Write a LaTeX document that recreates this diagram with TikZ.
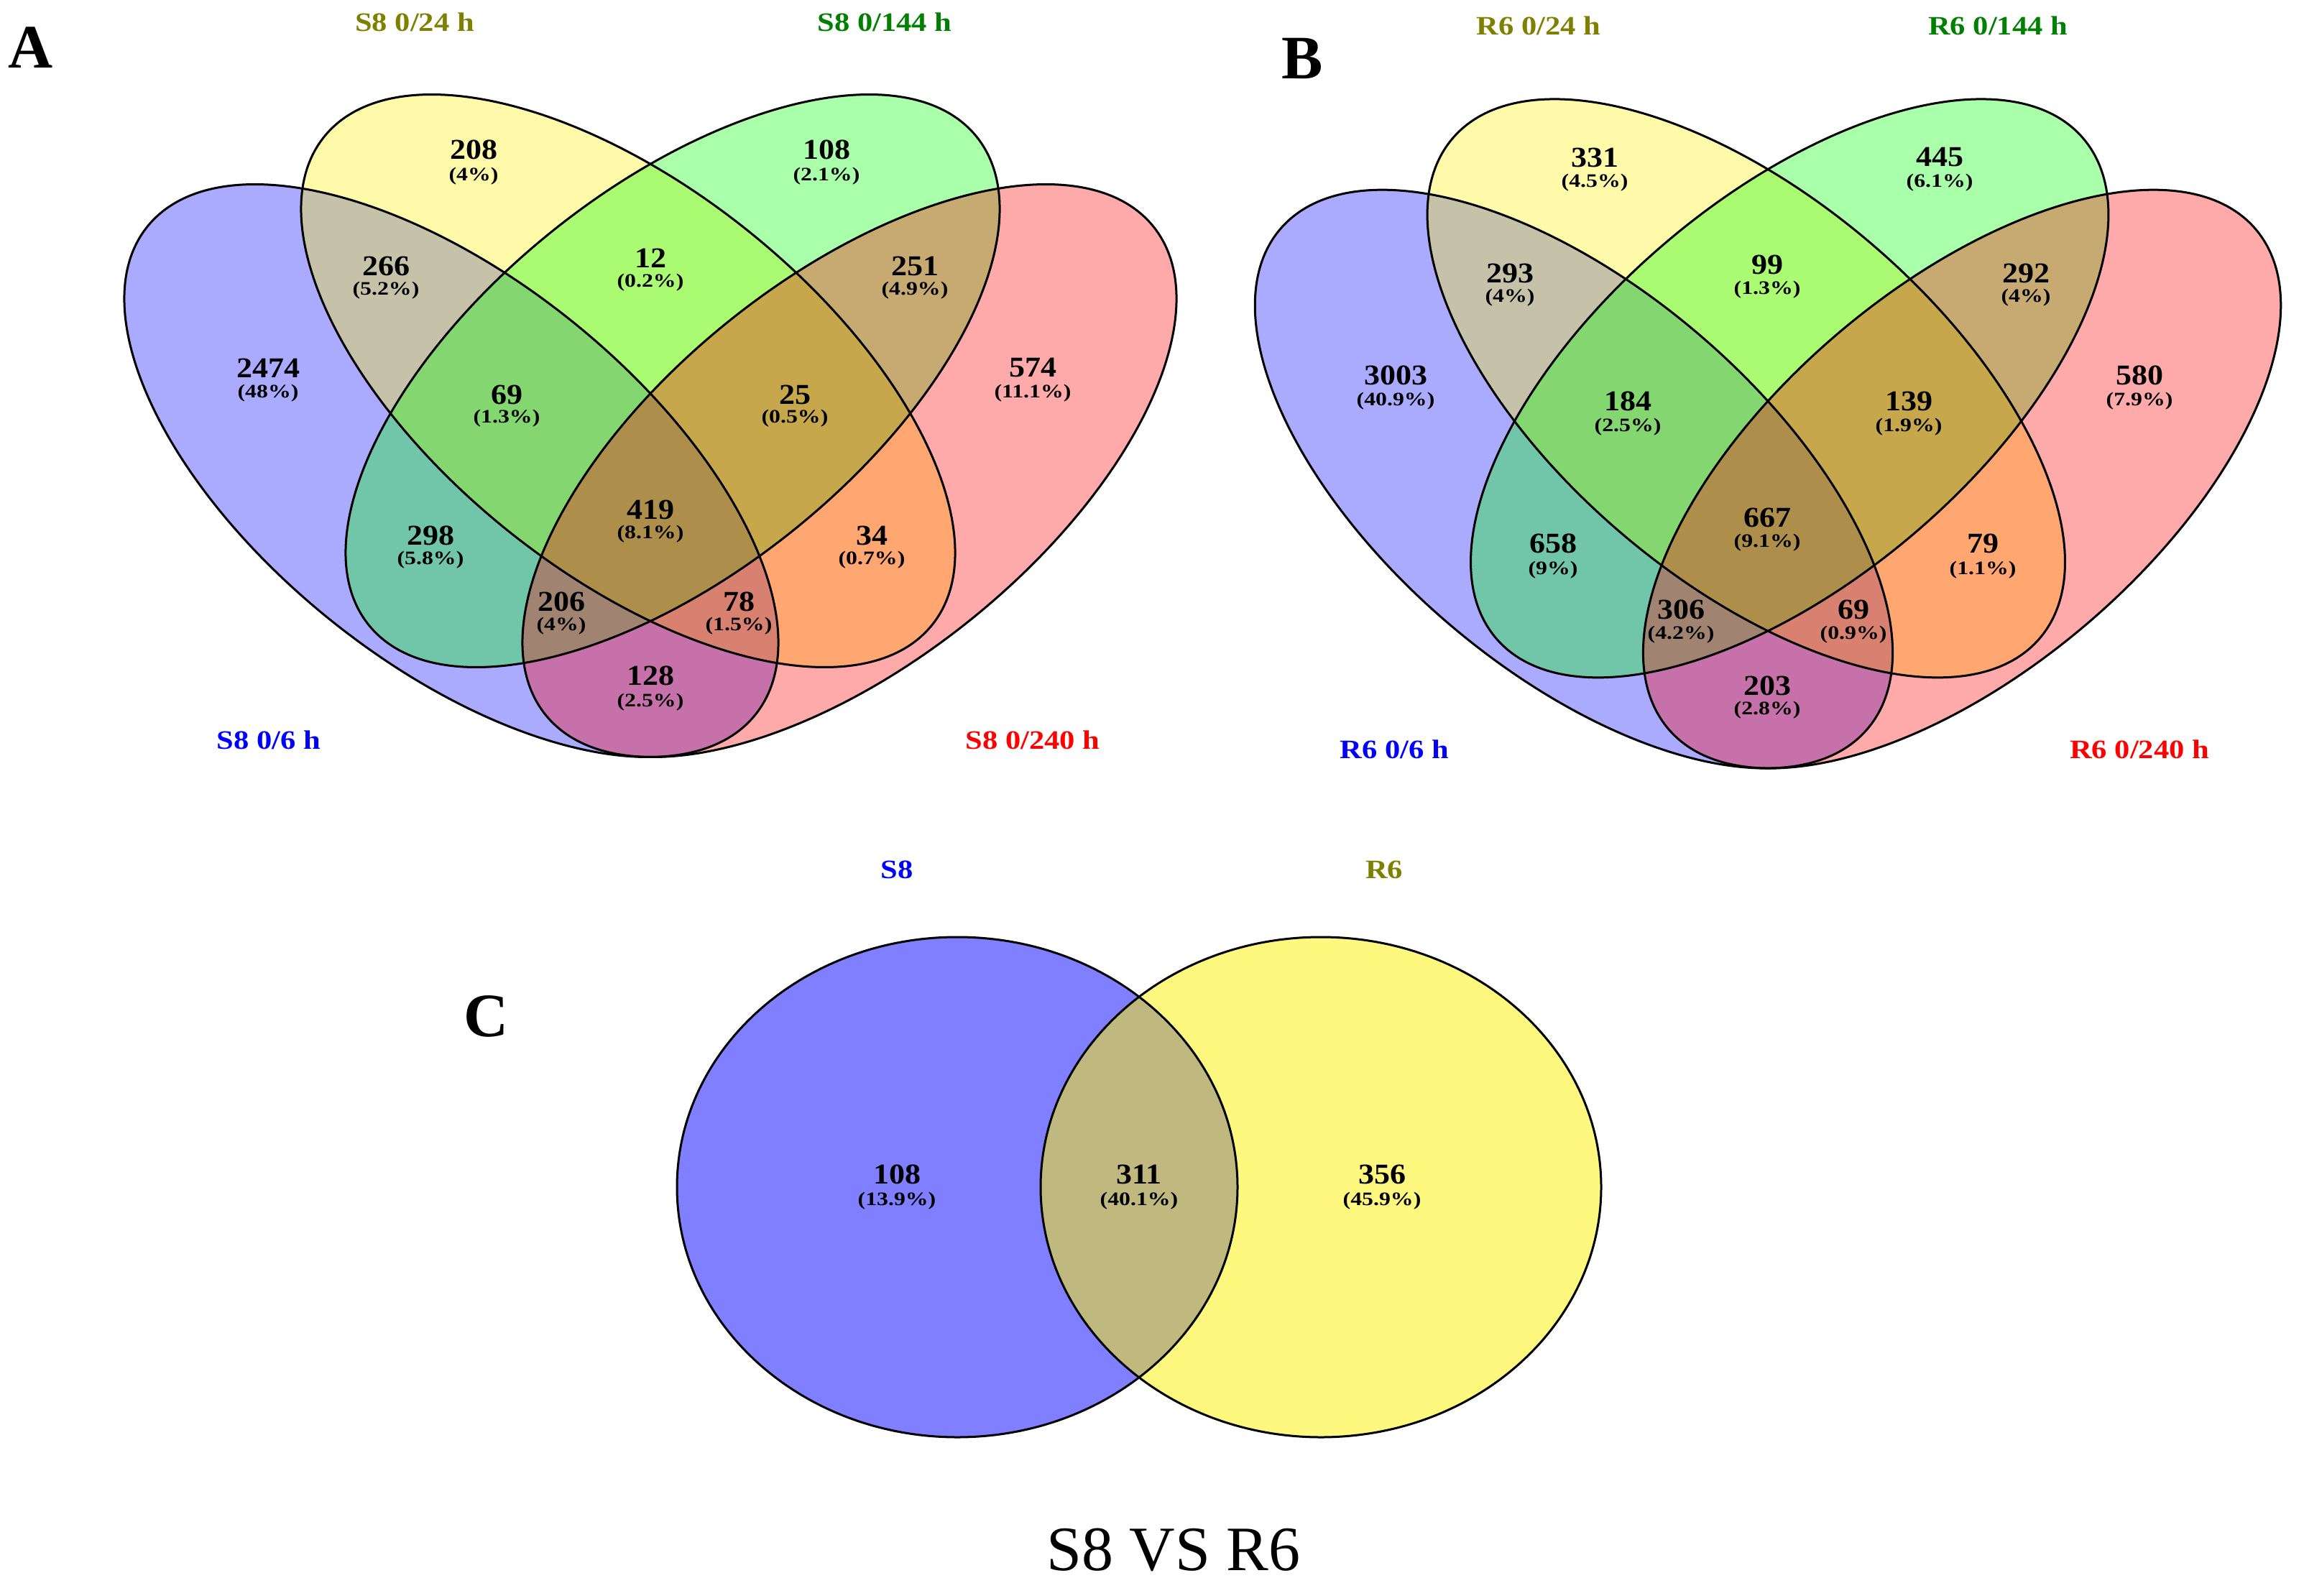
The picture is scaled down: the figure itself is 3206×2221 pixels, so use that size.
\documentclass[tikz,border=0pt]{standalone}
\usepackage{fontspec}
\setmainfont{Liberation Serif}
\newfontfamily\numfont{Liberation Serif}[FakeStretch=1.1]
\newfontfamily\pctfont{Liberation Serif}[FakeStretch=1.2]
\newfontfamily\catfont{Liberation Serif}[FakeStretch=1.15]
\definecolor{olivec}{RGB}{128,128,0}
\definecolor{greenc}{RGB}{0,128,0}
\tikzset{
  venn/.style={draw=black, line width=3pt},
  ell/.style={x radius=542.5pt, y radius=267.3pt},
  eB/.style={shift={(628,-655)}, rotate=-38.75},
  eY/.style={shift={(874,-530)}, rotate=-38.75},
  eG/.style={shift={(936,-530)}, rotate=38.75},
  eR/.style={shift={(1182,-655)}, rotate=38.75},
  fb/.style={fill=blue, fill opacity=0.3333},
  fy/.style={fill=yellow, fill opacity=0.3333},
  fg/.style={fill=green, fill opacity=0.3333},
  fr/.style={fill=red, fill opacity=0.3333},
  num/.style={font={\numfont\bfseries\fontsize{40}{42}\selectfont}, inner sep=0pt},
  pct/.style={font={\pctfont\bfseries\fontsize{26.5}{28}\selectfont}, inner sep=0pt},
  cat/.style={font={\catfont\bfseries\fontsize{37}{40}\selectfont}, inner sep=0pt},
  panel/.style={font={\bfseries\fontsize{86}{90}\selectfont}, inner sep=0pt},
}
\newcommand\quadshapes{%
  \fill[fb, eB] (0,0) ellipse [ell];
  \fill[fy, eY] (0,0) ellipse [ell];
  \fill[fg, eG] (0,0) ellipse [ell];
  \fill[fr, eR] (0,0) ellipse [ell];
  \draw[venn, eB] (0,0) ellipse [ell];
  \draw[venn, eY] (0,0) ellipse [ell];
  \draw[venn, eG] (0,0) ellipse [ell];
  \draw[venn, eR] (0,0) ellipse [ell];
}
\begin{document}
\begin{tikzpicture}[x=1pt, y=1pt]
\useasboundingbox (0,0) rectangle (3206,-2221);
\fill[white] (0,0) rectangle (3206,-2221);

% ---------- Panel A ----------
\quadshapes
\node[panel] (pA) at (43,-66) {A};
\node[cat, text=olivec] (a24) at (577,-30.5) {S8 0/24 h};
\node[cat, text=greenc] (a144) at (1231,-30.5) {S8 0/144 h};
\node[cat, text=blue] (a6) at (374,-1030) {S8 0/6 h};
\node[cat, text=red] (a240) at (1437,-1030) {S8 0/240 h};

\node[num] (a1) at (659,-208) {208};   \node[pct] (a1p) at (659,-245) {(4\%)};
\node[num] (a2) at (1150,-208) {108};  \node[pct] (a2p) at (1150,-245) {(2.1\%)};
\node[num] (a3) at (537,-370) {266};   \node[pct] (a3p) at (537,-404) {(5.2\%)};
\node[num] (a4) at (905,-359) {12};    \node[pct] (a4p) at (905,-393) {(0.2\%)};
\node[num] (a5) at (1273,-370) {251};  \node[pct] (a5p) at (1273,-404) {(4.9\%)};
\node[num] (a6n) at (373,-512) {2474}; \node[pct] (a6p) at (373,-547) {(48\%)};
\node[num] (a7) at (705,-549) {69};    \node[pct] (a7p) at (705,-582) {(1.3\%)};
\node[num] (a8) at (1106,-549) {25};   \node[pct] (a8p) at (1106,-582) {(0.5\%)};
\node[num] (a9) at (1437,-512) {574};  \node[pct] (a9p) at (1437,-547) {(11.1\%)};
\node[num] (a10) at (905,-709) {419};  \node[pct] (a10p) at (905,-743) {(8.1\%)};
\node[num] (a11) at (599,-745) {298};  \node[pct] (a11p) at (599,-779) {(5.8\%)};
\node[num] (a12) at (1213,-745) {34};  \node[pct] (a12p) at (1213,-779) {(0.7\%)};
\node[num] (a13) at (781,-837) {206};  \node[pct] (a13p) at (781,-871) {(4\%)};
\node[num] (a14) at (1028,-837) {78};  \node[pct] (a14p) at (1028,-871) {(1.5\%)};
\node[num] (a15) at (905,-940) {128};  \node[pct] (a15p) at (905,-977) {(2.5\%)};

% ---------- Panel B ----------
\begin{scope}[shift={(2460,-603)}, xscale=0.975, yscale=1.01, shift={(-905,592)}]
\quadshapes
\end{scope}
\node[panel] (pB) at (1812,-81) {B};
\node[cat, text=olivec] (b24) at (2141,-36) {R6 0/24 h};
\node[cat, text=greenc] (b144) at (2780,-36) {R6 0/144 h};
\node[cat, text=blue] (b6) at (1940,-1043) {R6 0/6 h};
\node[cat, text=red] (b240) at (2977,-1043) {R6 0/240 h};

\node[num] (b1) at (2219,-219) {331};   \node[pct] (b1p) at (2219,-254) {(4.5\%)};
\node[num] (b2) at (2699,-219) {445};   \node[pct] (b2p) at (2699,-254) {(6.1\%)};
\node[num] (b3) at (2101,-380) {293};   \node[pct] (b3p) at (2101,-414) {(4\%)};
\node[num] (b4) at (2459,-368) {99};    \node[pct] (b4p) at (2459,-403) {(1.3\%)};
\node[num] (b5) at (2819,-380) {292};   \node[pct] (b5p) at (2819,-414) {(4\%)};
\node[num] (b6n) at (1942,-522) {3003}; \node[pct] (b6p) at (1942,-558) {(40.9\%)};
\node[num] (b7) at (2265,-558) {184};   \node[pct] (b7p) at (2265,-594) {(2.5\%)};
\node[num] (b8) at (2656,-558) {139};   \node[pct] (b8p) at (2656,-594) {(1.9\%)};
\node[num] (b9) at (2977,-522) {580};   \node[pct] (b9p) at (2977,-558) {(7.9\%)};
\node[num] (b10) at (2459,-720) {667};  \node[pct] (b10p) at (2459,-755) {(9.1\%)};
\node[num] (b11) at (2161,-756) {658};  \node[pct] (b11p) at (2161,-793) {(9\%)};
\node[num] (b12) at (2759,-756) {79};   \node[pct] (b12p) at (2759,-793) {(1.1\%)};
\node[num] (b13) at (2339,-848) {306};  \node[pct] (b13p) at (2339,-883) {(4.2\%)};
\node[num] (b14) at (2579,-848) {69};   \node[pct] (b14p) at (2579,-883) {(0.9\%)};
\node[num] (b15) at (2459,-954) {203};  \node[pct] (b15p) at (2459,-988) {(2.8\%)};

% ---------- Panel C ----------
\fill[blue, fill opacity=0.5] (1332,-1652) ellipse [x radius=390pt, y radius=348pt];
\fill[yellow, fill opacity=0.5] (1838,-1652) ellipse [x radius=390pt, y radius=348pt];
\draw[venn] (1332,-1652) ellipse [x radius=390pt, y radius=348pt];
\draw[venn] (1838,-1652) ellipse [x radius=390pt, y radius=348pt];
\node[panel] (pC) at (677,-1414) {C};
\node[cat, text=blue] (cs8) at (1248,-1210) {S8};
\node[cat, text=olivec] (cr6) at (1926,-1210) {R6};
\node[num] (c1) at (1248,-1634) {108}; \node[pct] (c1p) at (1248,-1671) {(13.9\%)};
\node[num] (c2) at (1585,-1634) {311}; \node[pct] (c2p) at (1585,-1671) {(40.1\%)};
\node[num] (c3) at (1923,-1634) {356}; \node[pct] (c3p) at (1923,-1671) {(45.9\%)};
\node[font={\fontsize{88}{92}\selectfont}, inner sep=0pt] (ctitle) at (1633,-2157) {S8 VS R6};
\end{tikzpicture}
\end{document}
